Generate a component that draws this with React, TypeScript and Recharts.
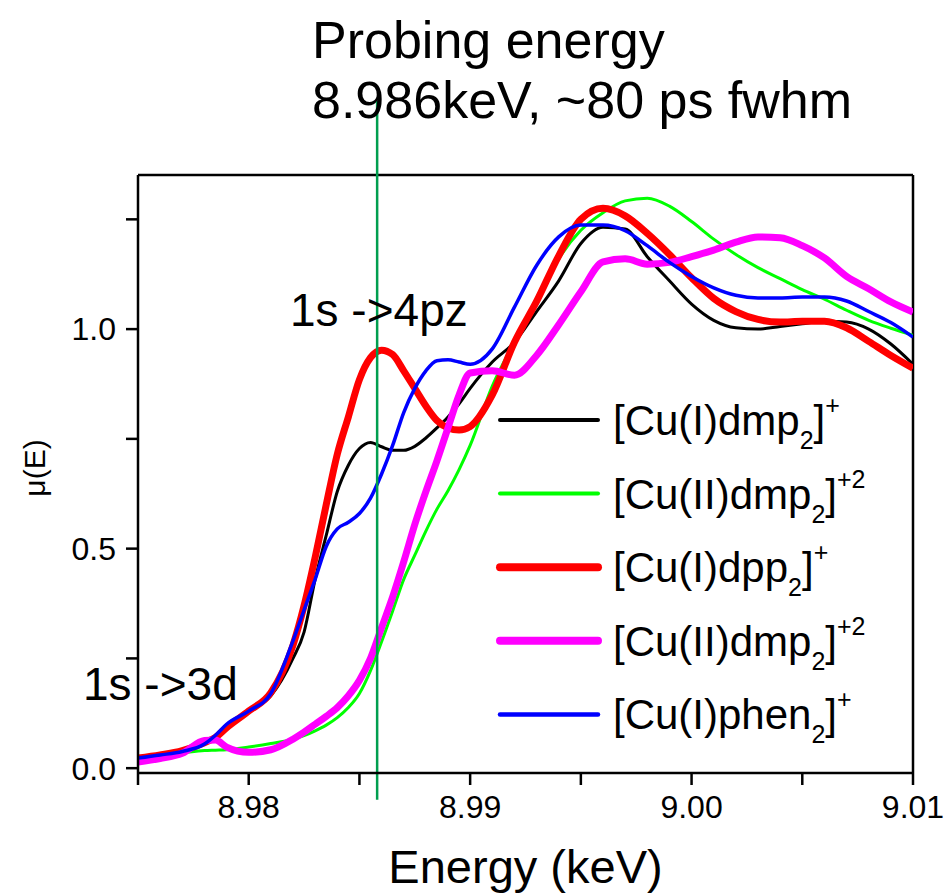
import { LineChart, Line, XAxis, YAxis, ReferenceLine } from "recharts";

const FONT = "'Liberation Sans', Arial, sans-serif";

// energy grid (keV), denser around the edge
const energies = [
  8.975, 8.976, 8.977, 8.978, 8.9785, 8.979, 8.98, 8.981, 8.982, 8.9825, 8.983,
  8.9835, 8.984, 8.9845, 8.985, 8.9855, 8.986, 8.9865, 8.987, 8.9875, 8.988,
  8.9885, 8.989, 8.9895, 8.99, 8.991, 8.992, 8.993, 8.994, 8.995, 8.996, 8.997,
  8.998, 8.999, 9.0, 9.001, 9.002, 9.003, 9.004, 9.005, 9.006, 9.007, 9.008,
  9.009, 9.01,
];

const cuIDmp = [
  0.023, 0.03, 0.04, 0.055, 0.07, 0.093, 0.13, 0.165, 0.25, 0.31, 0.43, 0.53,
  0.63, 0.69, 0.728, 0.742, 0.732, 0.724, 0.724, 0.733, 0.752, 0.775, 0.8, 0.83,
  0.865, 0.925, 0.97, 1.04, 1.11, 1.195, 1.232, 1.228, 1.165, 1.11, 1.057, 1.02,
  1.003, 1.0, 1.006, 1.012, 1.018, 1.016, 1.0, 0.966, 0.92,
];

const cuIIDmp = [
  0.025, 0.03, 0.035, 0.04, 0.041, 0.042, 0.048, 0.056, 0.066, 0.074, 0.085,
  0.098, 0.115, 0.138, 0.17, 0.222, 0.288, 0.358, 0.43, 0.485, 0.54, 0.59, 0.632,
  0.68, 0.735, 0.87, 0.97, 1.06, 1.16, 1.225, 1.265, 1.292, 1.298, 1.28, 1.245,
  1.205, 1.17, 1.14, 1.115, 1.09, 1.068, 1.043, 1.02, 1.002, 0.986,
];

const cuIDpp = [
  0.023, 0.03, 0.04, 0.058, 0.07, 0.092, 0.13, 0.172, 0.28, 0.37, 0.48, 0.6,
  0.715, 0.8, 0.885, 0.935, 0.952, 0.942, 0.905, 0.865, 0.825, 0.792, 0.775,
  0.77, 0.778, 0.85, 0.97, 1.063, 1.167, 1.25, 1.275, 1.258, 1.218, 1.17, 1.117,
  1.07, 1.04, 1.022, 1.016, 1.018, 1.018, 1.003, 0.972, 0.94, 0.911,
];

const cuIIDmpB = [
  0.014, 0.022, 0.034, 0.063, 0.064, 0.048, 0.036, 0.042, 0.066, 0.082, 0.1,
  0.118, 0.138, 0.165, 0.2, 0.25, 0.32, 0.39, 0.47, 0.555, 0.63, 0.7, 0.775,
  0.85, 0.9, 0.905, 0.895, 0.94, 1.01, 1.085, 1.153, 1.16, 1.148, 1.152, 1.165,
  1.18, 1.198, 1.21, 1.208, 1.19, 1.162, 1.12, 1.092, 1.062, 1.039,
];

const cuIPhen = [
  0.023, 0.03, 0.038, 0.055, 0.075, 0.1, 0.13, 0.17, 0.29, 0.36, 0.43, 0.505,
  0.545, 0.56, 0.58, 0.615, 0.67, 0.735, 0.81, 0.865, 0.905, 0.928, 0.93, 0.925,
  0.92, 0.955, 1.05, 1.145, 1.21, 1.237, 1.237, 1.224, 1.19, 1.152, 1.12, 1.094,
  1.077, 1.071, 1.071, 1.073, 1.073, 1.064, 1.04, 1.015, 0.982,
];

const xTicks = [8.975, 8.98, 8.985, 8.99, 8.995, 9.0, 9.005, 9.01];
const yTicks = [0, 0.25, 0.5, 0.75, 1.0, 1.25];
const probeEnergy = 8.9858;

const series = [
  { key: "cuIDmp", values: cuIDmp, color: "#000000", width: 3, base: "[Cu(I)dmp", sup: "+" },
  { key: "cuIIDmp", values: cuIIDmp, color: "#00ff00", width: 3, base: "[Cu(II)dmp", sup: "+2" },
  { key: "cuIDpp", values: cuIDpp, color: "#ff0000", width: 7, base: "[Cu(I)dpp", sup: "+" },
  { key: "cuIIDmpB", values: cuIIDmpB, color: "#ff00ff", width: 7, base: "[Cu(II)dmp", sup: "+2" },
  { key: "cuIPhen", values: cuIPhen, color: "#0000ff", width: 3.5, base: "[Cu(I)phen", sup: "+" },
];

const data = energies.map((energy, i) => {
  const row: Record<string, number> = { energy };
  series.forEach((s) => {
    row[s.key] = s.values[i];
  });
  return row;
});

const isMajor = (v: number, step: number) =>
  Math.abs(v / step - Math.round(v / step)) < 1e-6;

export default function App() {
  return (
    <div style={{ position: "absolute", left: 0, top: 0, width: 947, height: 895, background: "#fff" }}>
      <LineChart
        width={947}
        height={895}
        data={data}
        margin={{ top: 175, right: 34, left: 0, bottom: 0 }}
      >
        <XAxis
          dataKey="energy"
          type="number"
          domain={[8.975, 9.01]}
          ticks={xTicks}
          allowDataOverflow
          height={122}
          tickSize={12}
          tickMargin={10}
          tickFormatter={(v: number) => (isMajor(v, 0.01) ? v.toFixed(2) : "")}
          tick={{ fill: "#000", fontSize: 32, fontFamily: FONT }}
          axisLine={{ stroke: "#000", strokeWidth: 2.5 }}
          tickLine={{ stroke: "#000", strokeWidth: 2.5 }}
          label={{
            value: "Energy (keV)",
            position: "insideBottom",
            offset: 12,
            fill: "#000",
            fontSize: 47,
            fontFamily: FONT,
          }}
        />
        <YAxis
          type="number"
          domain={[-0.011, 1.351]}
          ticks={yTicks}
          allowDataOverflow
          width={138}
          tickSize={12}
          tickMargin={10}
          tickFormatter={(v: number) => (isMajor(v, 0.5) ? v.toFixed(1) : "")}
          tick={{ fill: "#000", fontSize: 32, fontFamily: FONT }}
          axisLine={{ stroke: "#000", strokeWidth: 2.5 }}
          tickLine={{ stroke: "#000", strokeWidth: 2.5 }}
        />
        <ReferenceLine y={1.351} stroke="#000" strokeWidth={2.5} />
        <ReferenceLine x={9.01} stroke="#000" strokeWidth={2.5} />
        {series.map((s) => (
          <Line
            key={s.key}
            dataKey={s.key}
            type="monotone"
            stroke={s.color}
            strokeWidth={s.width}
            dot={false}
            activeDot={false}
            isAnimationActive={false}
          />
        ))}
        <ReferenceLine
          segment={[
            { x: probeEnergy, y: 1.52 },
            { x: probeEnergy, y: -0.072 },
          ]}
          ifOverflow="visible"
          stroke="#009e4f"
          strokeWidth={2.5}
        />
      </LineChart>

      <svg
        width={947}
        height={895}
        style={{ position: "absolute", left: 0, top: 0, pointerEvents: "none" }}
        fontFamily={FONT}
      >
        <text x={312} y={58} fontSize={52} fill="#000">
          Probing energy
        </text>
        <text x={312} y={118} fontSize={52} fill="#000">
          8.986keV, ~80 ps fwhm
        </text>
        <text x={290} y={326} fontSize={46} fill="#000">
          1s -&gt;4pz
        </text>
        <text x={83} y={700} fontSize={46} fill="#000">
          1s -&gt;3d
        </text>
        <text
          x={34}
          y={468}
          fontSize={30}
          fill="#000"
          textAnchor="middle"
          dominantBaseline="central"
          transform="rotate(-90 34 468)"
        >
          μ(E)
        </text>
        {series.map((s, i) => {
          const ly = 420 + i * 73.6;
          return (
            <g key={s.key}>
              <line
                x1={500}
                x2={598}
                y1={ly}
                y2={ly}
                stroke={s.color}
                strokeWidth={s.width + 1}
                strokeLinecap="round"
              />
              <text x={613} y={ly + 15} fontSize={42} fill="#000">
                {s.base}
                <tspan fontSize={25} dy={14}>2</tspan>
                <tspan dy={-14}>]</tspan>
                <tspan fontSize={25} dy={-21}>{s.sup}</tspan>
              </text>
            </g>
          );
        })}
      </svg>
    </div>
  );
}
